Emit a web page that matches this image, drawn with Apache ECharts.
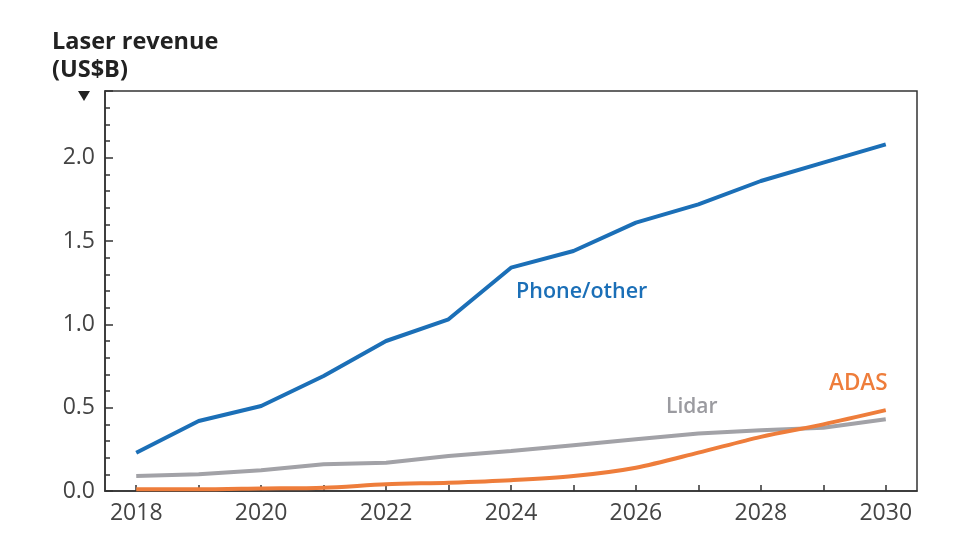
<!DOCTYPE html>
<html><head><meta charset="utf-8">
<script src="https://cdn.jsdelivr.net/npm/echarts@6/dist/echarts.min.js"></script>
<style>html,body{margin:0;padding:0;background:#fff}#c{width:980px;height:560px}</style>
</head><body><div id="c"></div>
<script>
var years = ['2018','2019','2020','2021','2022','2023','2024','2025','2026','2027','2028','2029','2030'];
var phoneOther = [0.23,0.42,0.51,0.69,0.90,1.03,1.34,1.44,1.61,1.72,1.86,1.97,2.08];
var lidar = [0.09,0.10,0.125,0.16,0.17,0.21,0.24,0.275,0.31,0.345,0.365,0.38,0.43];
var adas = [0.01,0.01,0.015,0.02,0.04,0.05,0.065,0.09,0.14,0.23,0.325,0.40,0.485];
var yTicks = [0,0.5,1.0,1.5,2.0];

var font = '"Open Sans", "Noto Sans", sans-serif';
var chart = echarts.init(document.getElementById('c'), null, {renderer:'canvas'});
chart.setOption({
  animation:false,
  grid:{left:105, right:63, top:91, bottom:69, show:true, borderColor:'#333', borderWidth:1.5, backgroundColor:'transparent'},
  xAxis:{type:'category', data:years, boundaryGap:true,
    axisLine:{lineStyle:{color:'#333', width:1.5}},
    axisTick:{show:true, inside:true, alignWithLabel:true, interval:0, length:6, lineStyle:{color:'#333', width:1.5}},
    axisLabel:{interval:1, color:'#444', fontSize:23, fontFamily:font, margin:11},
    splitLine:{show:false}
  },
  yAxis:{type:'value', min:0, max:2.4, interval:0.5,
    axisLine:{show:true, lineStyle:{color:'#333', width:1.5}},
    axisTick:{show:true, inside:true, length:8, lineStyle:{color:'#333', width:1.5}},
    minorTick:{show:true, splitNumber:5, length:5, lineStyle:{color:'#333', width:1.5}},
    axisLabel:{color:'#444', fontSize:23, fontFamily:font, margin:10, showMaxLabel:false,
      formatter:function(v){ return yTicks.indexOf(v) >= 0 ? v.toFixed(1) : ''; }},
    splitLine:{show:false}, minorSplitLine:{show:false}
  },
  series:[
    {name:'Lidar', type:'line', data:lidar, symbol:'none', lineStyle:{color:'#a2a2a7', width:4}, z:2},
    {name:'ADAS', type:'line', data:adas, symbol:'none', smooth:0.3, lineStyle:{color:'#ee7d3b', width:4}, z:3},
    {name:'Phone/other', type:'line', data:phoneOther, symbol:'none', lineStyle:{color:'#1b6fb7', width:4}, z:4}
  ],
  graphic:[
    {type:'text', left:52, top:28, style:{text:'Laser revenue\n(US$B)', font:'bold 23.5px '+font, fill:'#222', lineHeight:28}},
    {type:'polygon', shape:{points:[[78,91],[90,91],[84,101]]}, style:{fill:'#222'}},
    {type:'text', left:516, top:281, style:{text:'Phone/other', font:'600 21.5px '+font, fill:'#1b6fb7'}},
    {type:'text', left:666, top:397, style:{text:'Lidar', font:'600 21px '+font, fill:'#9b9ba0'}},
    {type:'text', left:829, top:372, style:{text:'ADAS', font:'600 22.5px '+font, fill:'#ee7d3b'}}
  ]
});
</script></body></html>
